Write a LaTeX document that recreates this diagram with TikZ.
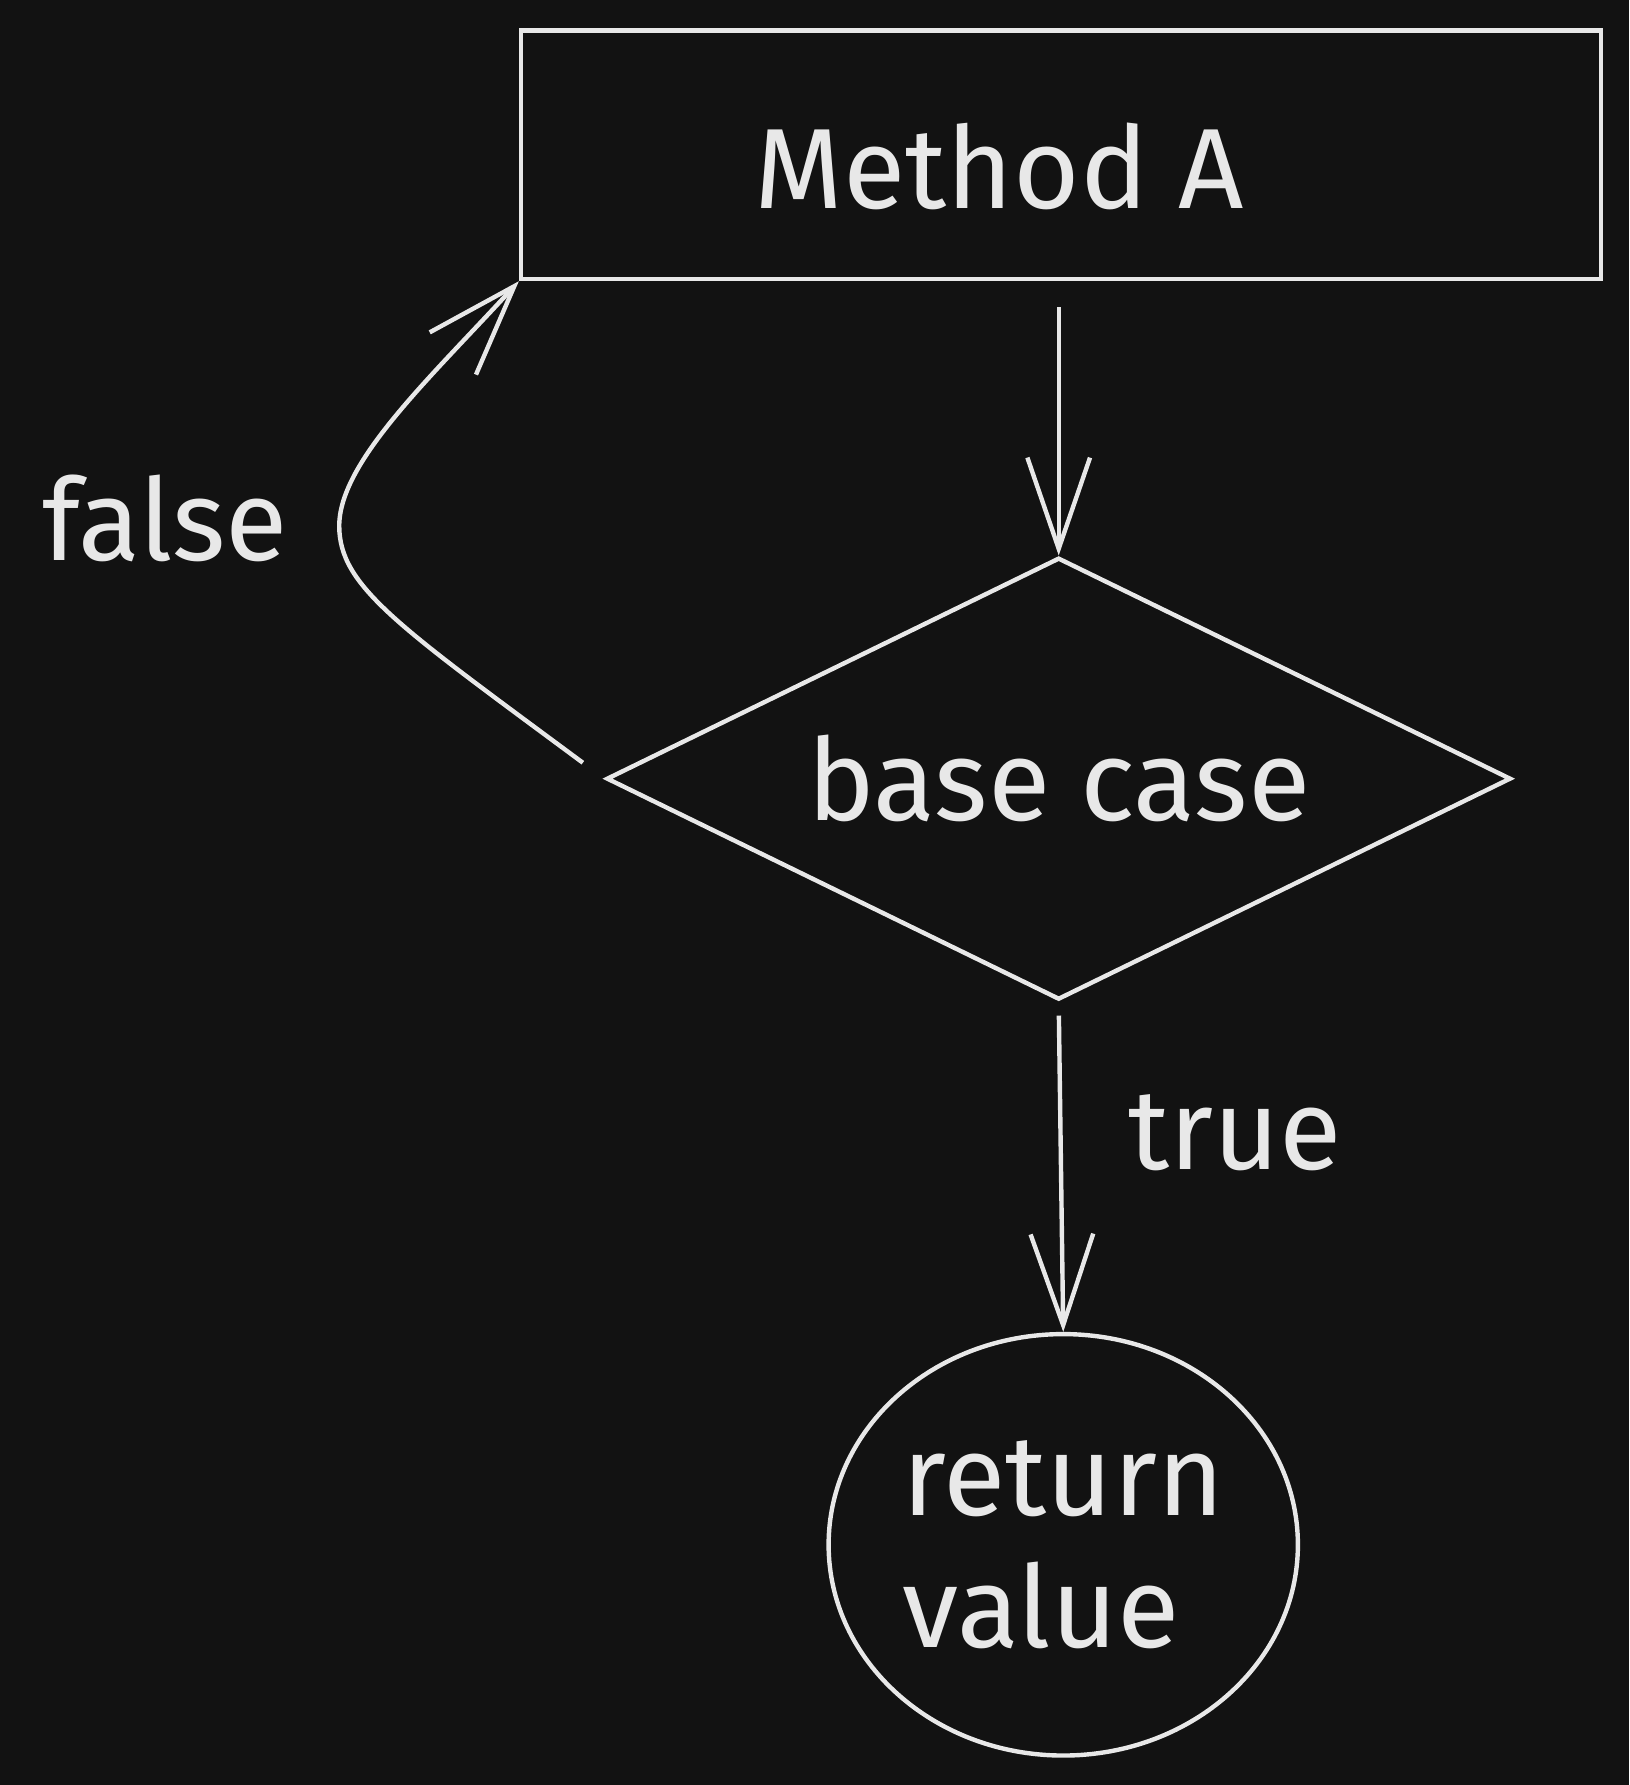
\documentclass[tikz,border=0pt]{standalone}
\usepackage{fontspec}
\setmainfont{Fira Sans}
\usetikzlibrary{arrows.meta,shapes.geometric,calc}
\definecolor{bg}{HTML}{121212}
\definecolor{ink}{HTML}{E8E8E8}
\tikzset{
  sketch/.style={draw=ink,line width=1.1pt},
  flow/.style={sketch,-{Straight Barb[length=8mm,width=5.5mm]}},
  lbl/.style={text=ink,font=\fontsize{28.5}{33}\selectfont}
}

\begin{document}
\begin{tikzpicture}[x=0.01cm,y=-0.01cm]
  \fill[bg] (0,0) rectangle (1431,1568);
  \useasboundingbox (0,0) rectangle (1431,1568);
  \node[sketch,minimum width=9.48cm,minimum height=2.18cm,inner sep=0] (methodA) at (932,136) {};
  \node[lbl] (methodtxt) at (878,146) {Method A};
  \node[sketch,lbl,diamond,aspect=2,minimum width=7.94cm,minimum height=3.88cm,inner sep=0] (basecase) at (930,684) {base case};
  \node[sketch,lbl,ellipse,minimum width=4.12cm,minimum height=3.7cm,inner sep=0,align=left] (retval) at (934,1357) {return\\value};
  \coordinate (falsestart) at (512,670);
  \coordinate (falsebend) at (298,462);
  \draw[flow,shorten <=0.23cm] (methodA.south -| basecase.north) -- (basecase.north);
  \draw[flow,shorten <=0.12cm] (basecase.south) -- (retval.north);
  \draw[flow] (falsestart) .. controls (350,550) and (298,515) .. (falsebend)
    .. controls (298,405) and (380,330) .. (methodA.south west);
  \node[lbl] (falselbl) at (145,455) {false};
  \node[lbl] (truelbl) at (1085,995) {true};
\end{tikzpicture}
\end{document}
